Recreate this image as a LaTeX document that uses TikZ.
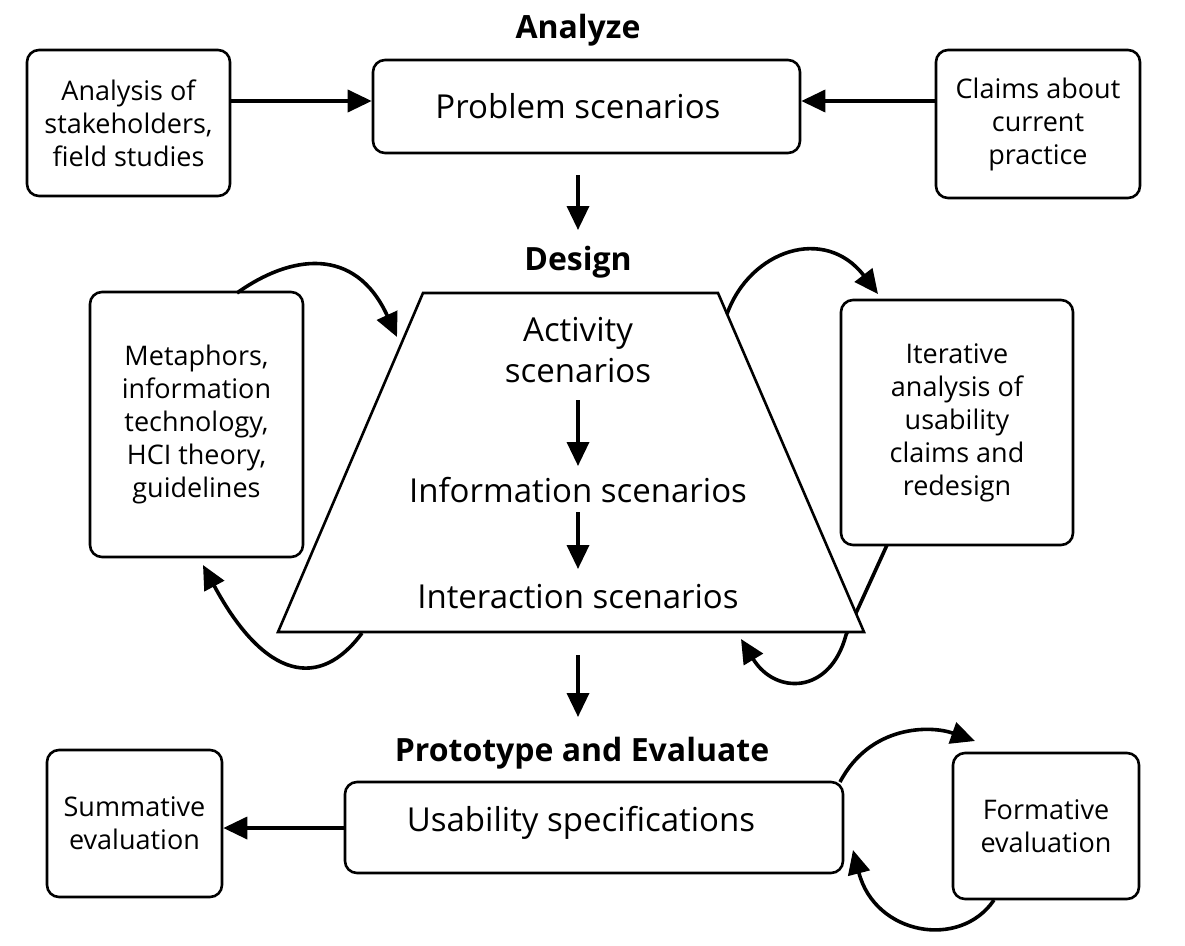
\documentclass[tikz,border=0pt]{standalone}
\usepackage{fontspec}
\setmainfont{Open Sans}
\usetikzlibrary{arrows.meta}
\tikzset{
  box/.style={draw, line width=2.6pt, rounded corners=12pt, fill=white, align=center, inner sep=0pt},
  smalltxt/.style={font=\fontsize{27}{33}\selectfont},
  bigtxt/.style={font=\fontsize{33}{41}\selectfont},
  head/.style={font=\fontsize{32}{36}\selectfont\bfseries},
  arr/.style={line width=3.6pt, -{Triangle[length=24pt,width=22pt]}},
  carr/.style={line width=3.6pt, -{Triangle[length=24pt,width=22pt]}},
}
\begin{document}
\begin{tikzpicture}[x=1pt,y=-1pt]
\useasboundingbox (0,0) rectangle (1185,945);
% Analyze row
\node[head] (hA) at (578,30) {Analyze};
\node[box,smalltxt,minimum width=203pt,minimum height=146pt] (stake) at (128.5,123) {Analysis of\\stakeholders,\\field studies};
\node[box,minimum width=427pt,minimum height=93pt] (ps) at (586.5,106.5) {};
\node[bigtxt] (pst) at (578,106) {Problem scenarios};
\node[box,smalltxt,minimum width=204pt,minimum height=148pt] (claims) at (1038,124) {Claims about\\current\\practice};
\draw[arr] (stake.east |- 0,101) -- (ps.west |- 0,101);
\draw[arr] (claims.west |- 0,101) -- (ps.east |- 0,101);
\coordinate (d1a) at (578,175);
\coordinate (d1b) at (578,230);
\draw[arr] (d1a) -- (d1b);
% Design
\node[head] (hD) at (578,262) {Design};
\node[box,smalltxt,minimum width=213pt,minimum height=265pt] (meta) at (196.5,424.5) {Metaphors,\\information\\technology,\\HCI theory,\\guidelines};
\node[box,smalltxt,minimum width=232pt,minimum height=245pt] (iter) at (957,422.5) {Iterative\\analysis of\\usability\\claims and\\redesign};
% curves behind trapezoid
\coordinate (c1s) at (362,633);
\coordinate (c1e) at (203,565);
\draw[carr] (c1s) .. controls (320,690) and (265,680) .. (c1e);
\coordinate (c2s) at (887,545);
\coordinate (c2m) at (846,635);
\coordinate (c2e) at (741,639);
\draw[carr] (c2s) -- (c2m) .. controls (830,695) and (775,695) .. (c2e);
% trapezoid
\draw[line width=2.6pt, fill=white, line join=miter] (423,293) -- (718,293) -- (864,632) -- (278,632) -- cycle;
\coordinate (c4s) at (237,293);
\coordinate (c4e) at (397,337);
\draw[carr] (c4s) .. controls (290,255) and (355,245) .. (c4e);
\coordinate (c3s) at (727,314);
\coordinate (c5e) at (878,294);
\draw[carr] (c3s) .. controls (750,250) and (825,225) .. (c5e);
\node[bigtxt,align=center] (act) at (578,350) {Activity\\scenarios};
\node[bigtxt] (inf) at (578,490) {Information scenarios};
\node[bigtxt] (int) at (578,597) {Interaction scenarios};
\draw[arr] (578,400) -- (578,466);
\draw[arr] (578,512) -- (578,569);
\coordinate (d2a) at (578,655);
\coordinate (d2b) at (578,717);
\draw[arr] (d2a) -- (d2b);
% Prototype
\node[head] (hP) at (582,753) {Prototype and Evaluate};
\node[box,minimum width=498pt,minimum height=91pt] (us) at (594,827.5) {};
\node[bigtxt] (ust) at (581,823) {Usability specifications};
\node[box,smalltxt,minimum width=175pt,minimum height=147pt] (sum) at (134.5,823.5) {Summative\\evaluation};
\node[box,smalltxt,minimum width=186pt,minimum height=146pt] (form) at (1046,826) {Formative\\evaluation};
\draw[arr] (us.west |- 0,828) -- (sum.east |- 0,828);
\coordinate (c6s) at (840,782);
\coordinate (c6e) at (975,741);
\draw[carr] (c6s) .. controls (870,725) and (930,725) .. (c6e);
\coordinate (c7s) at (994,900);
\coordinate (c7e) at (853,850);
\draw[carr] (c7s) .. controls (960,950) and (875,935) .. (c7e);
\end{tikzpicture}
\end{document}
